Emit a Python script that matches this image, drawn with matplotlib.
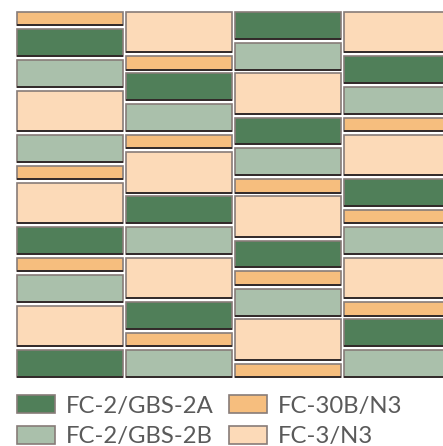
import matplotlib.pyplot as plt
from matplotlib.patches import Rectangle

categories = ['FC-2/GBS-2A', 'FC-2/GBS-2B', 'FC-30B/N3', 'FC-3/N3']
colors = ['#507f59', '#aac0ab', '#f6be7e', '#fcdab8']
sizes = [2, 2, 1, 3]  # height of one block for each category

# block order in each column, top to bottom (index into categories)
col1 = [2, 0, 1, 3, 1, 2, 3, 0, 2, 1, 3, 0]
col2 = [3, 2, 0, 1, 2, 3, 0, 1, 3, 0, 2, 1]
col3 = [0, 1, 3, 0, 1, 2, 3, 0, 2, 1, 3, 2]
col4 = [3, 0, 1, 2, 3, 0, 2, 1, 3, 2, 0, 1]
columns = [col1, col2, col3, col4]

W, H = 443, 446
gap = 0.295
width = 0.97
edge = '#877c78'
shadow = '#2b2323'

fig = plt.figure(figsize=(W / 100, H / 100), dpi=100)
fig.patch.set_facecolor('white')

def px(x0, y0, w, h):
    # pixel box (top-left origin) -> figure fraction
    return [x0 / W, 1 - (y0 + h) / H, w / W, h / H]

ax = fig.add_axes(px(16, 11, W - 16, 367))
total = 0
for i, col in enumerate(columns):
    bottom = 0
    for c in col:
        h = sizes[c]
        ax.bar(i, h, bottom=bottom, width=width, color=colors[c],
               edgecolor=edge, linewidth=1.2)
        ax.hlines(bottom + h, i - width / 2, i + width / 2,
                  color=shadow, linewidth=1.3)
        bottom += h + gap
    total = max(total, bottom - gap)

m = 1 / 13.4
ax.set_ylim(total + m, -m)
ax.set_xlim(-width / 2 - 1 / 109, -width / 2 + (W - 17) / 109)
ax.axis('off')

# legend drawn by hand, two columns
font = 'Lato'
legend_pos = [(17, 395), (17, 426), (229, 395), (229, 426)]
for k, name in enumerate(categories):
    x0, y0 = legend_pos[k]
    r = Rectangle((x0 / W, 1 - (y0 + 18) / H), 38 / W, 18 / H,
                  transform=fig.transFigure, facecolor=colors[k],
                  edgecolor=edge, linewidth=1.2)
    fig.add_artist(r)
    fig.text((x0 + 49) / W, 1 - (y0 + 17.5) / H, name, fontsize=17.2,
             family=font, color='#5a5a5a', va='baseline', ha='left')

fig.savefig('out.png', dpi=100, facecolor='white')
